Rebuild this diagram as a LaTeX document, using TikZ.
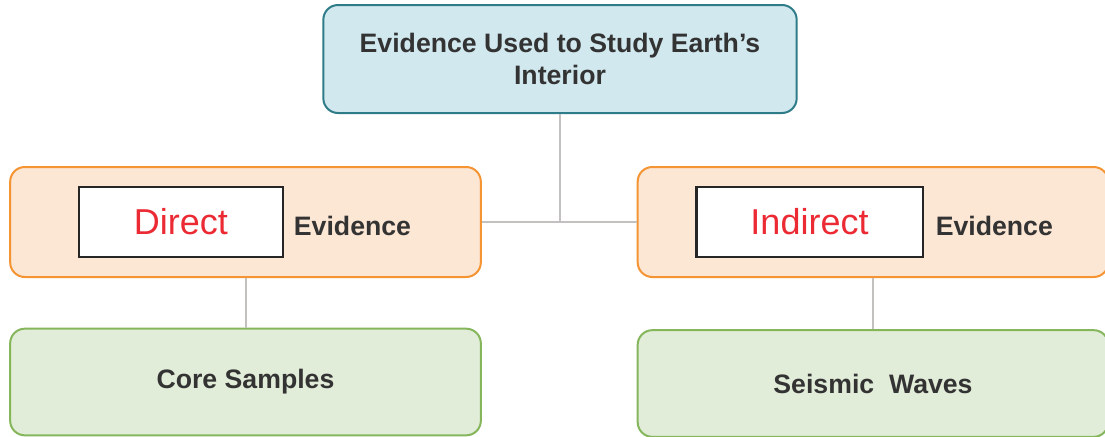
\documentclass[tikz,border=0pt]{standalone}
\usepackage{fontspec}
\setmainfont{Liberation Sans}
\usepackage{tikz}
\usetikzlibrary{positioning}
\definecolor{topicfill}{HTML}{D1E8EF}
\definecolor{topicline}{HTML}{2F7C89}
\definecolor{subfill}{HTML}{FCE6D4}
\definecolor{subline}{HTML}{F59432}
\definecolor{leaffill}{HTML}{E2EDD9}
\definecolor{leafline}{HTML}{85B65B}
\definecolor{linkgray}{HTML}{C3C0C0}
\definecolor{textdark}{HTML}{333333}
\definecolor{markred}{HTML}{EC2A33}
\tikzset{
    topic/.style={
                draw=topicline,
                fill=topicfill,
                line width=1.5pt,
                rounded corners=11pt,
                minimum width=355pt,
                minimum height=81pt,
                align=center,
                text=textdark,
                font=\bfseries\fontsize{20}{24}\selectfont
            },
        subtopic/.style={
                draw=subline,
                fill=subfill,
                line width=1.5pt,
                rounded corners=11pt,
                minimum width=353pt,
                minimum height=82.5pt
            },
        marker/.style={
                draw=black!85,
                fill=white,
                line width=2pt,
                minimum height=52.5pt,
                text=markred,
                font=\fontsize{27}{30}\selectfont
            },
        suffix/.style={
                inner sep=0pt,
                text=textdark,
                font=\bfseries\fontsize{20}{24}\selectfont
            },
        leaf/.style={
                draw=leafline,
                fill=leaffill,
                line width=1.5pt,
                rounded corners=11pt,
                minimum width=353pt,
                minimum height=80pt,
                text=textdark,
                font=\bfseries\fontsize{20}{24}\selectfont
            },
        link/.style={draw=linkgray, line width=1.5pt}
}

\begin{document}
\begin{tikzpicture}[x=0.75pt, y=-0.75pt]
\clip (0,0) rectangle (1105,436);
% Topic
\node[topic] (earth) at (560,59) {Evidence Used to Study Earth’s\\Interior};
% Subtopics
\node[subtopic] (direct) at (245.5,222) {};
\node[subtopic] (indirect) at (873,222) {};
\node[marker, minimum width=153pt] (directword) at (181,222) {Direct};
\node[marker, minimum width=170pt] (indirectword) at (809.5,222) {Indirect};
\node[suffix, right=7pt of directword.east, yshift=-2.6pt, anchor=west] (directev) {Evidence};
\node[suffix, right=8.5pt of indirectword.east, yshift=-2.6pt, anchor=west] (indirectev) {Evidence};
% Examples
\node[leaf] (core) at (245.5,382) {Core Samples};
\node[leaf] (seismic) at (873,383.5) {Seismic~~Waves};
% Links
\draw[link] (earth.south) |- (direct.east);
\draw[link] (earth.south) |- (indirect.west);
\draw[link] (direct.south) -- (core.north);
\draw[link] (indirect.south) -- (seismic.north);
\end{tikzpicture}
\end{document}
